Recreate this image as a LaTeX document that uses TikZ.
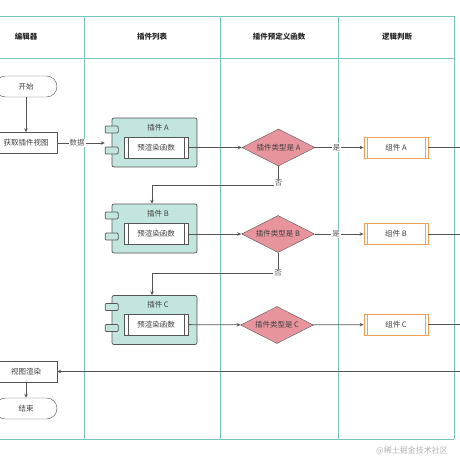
\documentclass[tikz,border=0pt]{standalone}
\usepackage{fontspec}
\setmainfont{Noto Sans CJK SC}
\usetikzlibrary{arrows.meta,shapes.geometric}
\definecolor{lanecol}{HTML}{7CC5BD}
\definecolor{linegray}{HTML}{555555}
\definecolor{plugfill}{HTML}{C2E5E0}
\definecolor{decfill}{HTML}{E8949D}
\definecolor{compcol}{HTML}{F0A05A}
\tikzset{
  lane/.style={draw=lanecol, line width=0.9pt},
  startstop/.style={draw=linegray, fill=white, rounded corners=10.5pt, minimum width=62pt, minimum height=21pt},
  proc/.style={draw=linegray, fill=white, minimum width=62pt, minimum height=21pt},
  plugin/.style={draw=linegray, fill=plugfill, rounded corners=2pt, minimum width=85pt, minimum height=49pt, line width=0.7pt},
  tab/.style={draw=linegray, fill=plugfill, rounded corners=1pt, minimum width=13pt, minimum height=7pt, inner sep=0pt, line width=0.7pt},
  func/.style={draw=linegray, fill=white, minimum width=64pt, minimum height=21pt, line width=0.7pt,
    path picture={\draw[linegray, line width=0.7pt]
      ([xshift=4pt]path picture bounding box.north west) -- ([xshift=4pt]path picture bounding box.south west)
      ([xshift=-4pt]path picture bounding box.north east) -- ([xshift=-4pt]path picture bounding box.south east);}},
  decision/.style={diamond, draw=linegray, fill=decfill, aspect=2, minimum width=73pt, minimum height=37pt, inner sep=0pt},
  comp/.style={draw=compcol, fill=white, minimum width=64pt, minimum height=21pt, line width=0.8pt,
    path picture={\draw[compcol, line width=0.8pt]
      ([xshift=3pt]path picture bounding box.north west) -- ([xshift=3pt]path picture bounding box.south west)
      ([xshift=-3pt]path picture bounding box.north east) -- ([xshift=-3pt]path picture bounding box.south east);}},
  arr/.style={draw=linegray, line width=0.8pt, -{Stealth[length=4pt,width=3.5pt]}},
  conn/.style={draw=linegray, line width=0.8pt},
  lbl/.style={fill=white, inner sep=1pt, text=linegray},
  head/.style={font=\fontsize{7.5}{9}\selectfont\bfseries, text=black!85},
}
\begin{document}
\begin{tikzpicture}[x=1pt,y=-1pt,every node/.append style={font=\fontsize{7.5}{9}\selectfont, text=black!75}]
\useasboundingbox (0,0) rectangle (460,460);

    % lanes
    \draw[lane] (0,16) -- (454,16);
    \draw[lane] (0,58) -- (454,58);
    \draw[lane] (0,439) -- (454,439);
    \foreach \x in {84,220.5,338,454}
        \draw[lane] (\x,16) -- (\x,439);

    \node[head] (h1) at (26,37) {编辑器};
    \node[head] (h2) at (152,37) {插件列表};
    \node[head] (h3) at (279,37) {插件预定义函数};
    \node[head] (h4) at (397,37) {逻辑判断};

    % editor
    \node[startstop] (start) at (26,86.5) {开始};
    \node[proc] (fetch) at (26,143) {获取插件视图};
    \node[proc] (render) at (26,371.5) {视图渲染};
    \node[startstop] (stop) at (26,408.5) {结束};

    % plugins
    \node[plugin] (pA) at (154.5,142.5) {};
    \node[plugin] (pB) at (154.5,228.5) {};
    \node[plugin] (pC) at (154.5,320) {};
    \foreach \p/\n in {pA/A,pB/B,pC/C}{
        \node[tab] (\p t1) at ([yshift=13pt]\p.west) {};
        \node[tab] (\p t2) at ([yshift=-8pt]\p.west) {};
    }
    \node (tA) at (158,128) {插件 A};
    \node (tB) at (158,213.5) {插件 B};
    \node (tC) at (158,304.5) {插件 C};
    \node[func] (iA) at (156,147.5) {预渲染函数};
    \node[func] (iB) at (156,234) {预渲染函数};
    \node[func] (iC) at (156,324.5) {预渲染函数};

    % decisions
    \node[decision] (dA) at (278.5,147.5) {插件类型是 A};
    \node[decision] (dB) at (278,234) {插件类型是 B};
    \node[decision] (dC) at (277,325) {插件类型是 C};

    % components
    \node[comp] (cA) at (396,147.5) {组件 A};
    \node[comp] (cB) at (396,234) {组件 B};
    \node[comp] (cC) at (396,324.5) {组件 C};

    \coordinate (edge) at (460,0);
    \coordinate (nA) at (278.5,185);
    \coordinate (nB) at (278,273);
    \coordinate (back) at (460,371.5);

    % draw the arrows
    \draw[arr] (start) -- (fetch);
    \draw[arr] (fetch.east) -- node[lbl,pos=0.42]{数据} (fetch.east -| pAt1.west);
    \draw[arr] (iA) -- (dA);
    \draw[arr] (iB) -- (dB);
    \draw[arr] (iC) -- (dC);
    \draw[arr] (dA) -- node[lbl,pos=0.44]{是} (cA);
    \draw[arr] (dB) -- node[lbl,pos=0.44]{是} (cB);
    \draw[arr] (dC) -- (cC);
    \draw[conn] (cA.east) -- (cA.east -| edge);
    \draw[conn] (cB.east) -- (cB.east -| edge);
    \draw[conn] (cC.east) -- (cC.east -| edge);
    \draw[arr] (dA.south) -- (nA) -| ([xshift=-2.5pt]pB.north);
    \node[lbl] at ([yshift=2pt]nA) {否};
    \draw[arr] (dB.south) -- (nB) -| ([xshift=-2.5pt]pC.north);
    \node[lbl] at (nB) {否};
    \draw[arr] (back) -- (render.east);
    \draw[arr] (render) -- (stop);

    \node[text=black!30, font=\fontsize{8}{9}\selectfont] (wm) at (412,451) {@稀土掘金技术社区};

\end{tikzpicture}
\end{document}
